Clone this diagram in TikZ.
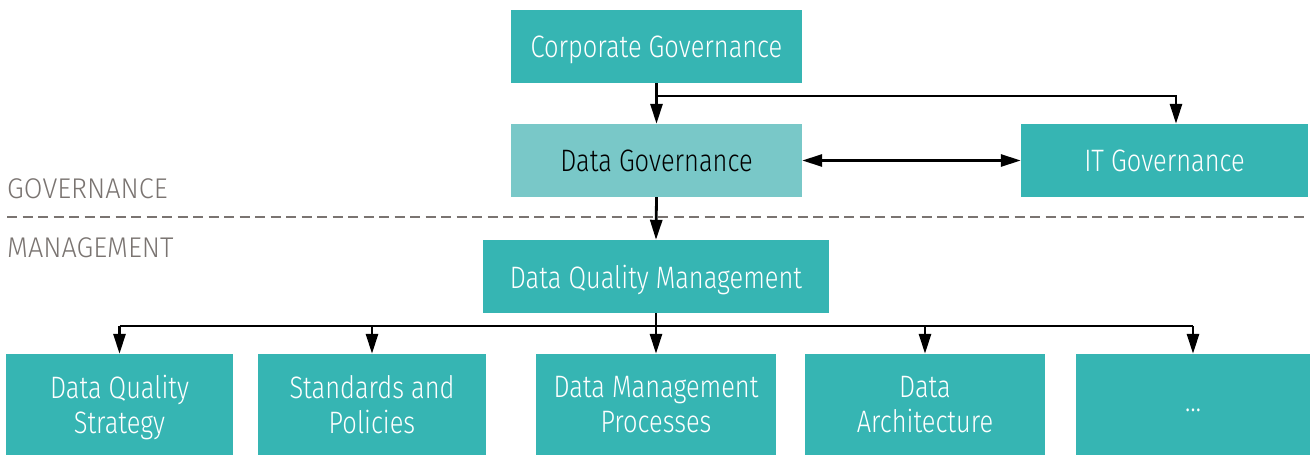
\documentclass[tikz,border=0pt]{standalone}
\usepackage{fontspec}
\setmainfont{Fira Sans}[UprightFont=* Light, FakeStretch=0.82]
\newfontfamily\lblfont{Fira Sans}[UprightFont=* Light, FakeStretch=0.95]
\usetikzlibrary{arrows.meta,calc}
\definecolor{teal1}{HTML}{36B5B3}
\definecolor{teal2}{HTML}{79C8C8}
\definecolor{graytxt}{HTML}{7A7471}
\tikzset{
  box/.style={fill=teal1, text=white, inner sep=0pt, align=center, text depth=0pt,
    font=\fontsize{31}{35}\selectfont},
  lightbox/.style={box, fill=teal2, text=black},
  conn/.style={line width=2.8pt, draw=black, line join=miter},
  arr/.style={conn, -{Triangle[length=20pt,width=12pt]}},
  darr/.style={conn, {Triangle[length=20pt,width=12pt]}-{Triangle[length=20pt,width=12pt]}},
  lbl/.style={text=graytxt, anchor=base west, inner sep=0pt, font=\lblfont\fontsize{28.5}{30}\selectfont},
}
\begin{document}
\begin{tikzpicture}[x=1pt,y=-1pt]
\useasboundingbox (0,0) rectangle (1310,455);
% top level
\node[box, minimum width=291pt, minimum height=73pt] (cg) at (656.5,46.5) {Corporate Governance};
\node[lightbox, minimum width=291pt, minimum height=73pt] (dg) at (656.5,160.5) {Data Governance};
\node[box, minimum width=287pt, minimum height=73pt] (it) at (1164.5,160.5) {IT Governance};
\node[box, minimum width=346pt, minimum height=73pt] (dqm) at (656,276.5) {Data Quality Management};
% bottom row
\node[box, minimum width=227pt, minimum height=101pt] (b1) at (119.5,404.5) {Data Quality\\Strategy};
\node[box, minimum width=228pt, minimum height=101pt] (b2) at (372,404.5) {Standards and\\Policies};
\node[box, minimum width=240pt, minimum height=101pt] (b3) at (656,404.5) {Data Management\\Processes};
\node[box, minimum width=240pt, minimum height=101pt] (b4) at (925,404.5) {Data\\Architecture};
\node[box, minimum width=234pt, minimum height=101pt, text height=14pt] (b5) at (1193,404.5) {\dots};
% section labels and divider
\node[lbl] (gov) at (7,198) {GOVERNANCE};
\node[lbl] (man) at (7,257) {MANAGEMENT};
\coordinate (dl) at (7,217);
\coordinate (dr) at (1308,217);
\draw[graytxt, line width=2pt, dash pattern=on 10pt off 5.5pt] (dl) -- (dr);
% connectors
\coordinate (j1) at (656.5,96);
\coordinate (itin) at ([xshift=11.5pt]it.north);
\draw[arr] (cg.south) -- (dg.north);
\draw[arr] (j1) -| (itin);
\draw[darr] (dg.east) -- (it.west);
\draw[arr] (dg.south) -- (dqm.north);
\coordinate (j2) at (656,326);
\draw[conn] (dqm.south) -- (j2);
\draw[conn] (b1.north |- j2) -- (b5.north |- j2);
\foreach \b in {b1,b2,b3,b4,b5} \draw[arr] (\b.north |- j2) -- (\b.north);
\end{tikzpicture}
\end{document}
